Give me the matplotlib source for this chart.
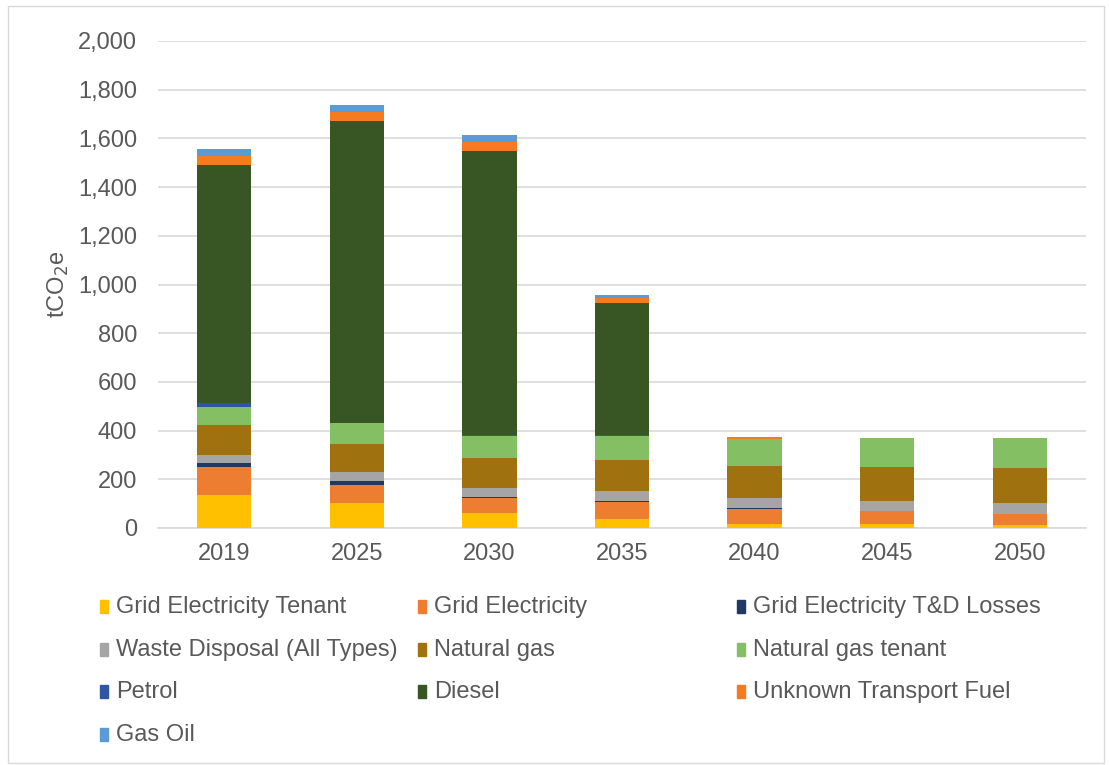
import numpy as np
import matplotlib.pyplot as plt
from matplotlib.patches import Rectangle

plt.rcParams['font.family'] = ['Liberation Sans', 'DejaVu Sans']

years = ['2019', '2025', '2030', '2035', '2040', '2045', '2050']

series_names = [
    'Grid Electricity Tenant', 'Grid Electricity', 'Grid Electricity T&D Losses',
    'Waste Disposal (All Types)', 'Natural gas', 'Natural gas tenant',
    'Petrol', 'Diesel', 'Unknown Transport Fuel',
    'Gas Oil',
]

grid_elec_tenant = [135, 101, 60, 36, 18, 15, 12]
grid_elec = [114, 76, 62, 72, 61, 55, 47]
grid_td_losses = [17, 17, 5, 3, 3, 0, 0]
waste = [32, 36, 37, 41, 42, 41, 44]
natural_gas = [125, 115, 125, 127, 131, 139, 145]
natural_gas_tenant = [74, 85, 90, 100, 111, 120, 122]
petrol = [16, 2, 2, 1, 0, 0, 0]
diesel = [978, 1240, 1168, 546, 0, 0, 0]
unknown_transport = [37, 36, 37, 17, 8, 0, 0]
gas_oil = [28, 29, 29, 15, 0, 0, 0]

colors = ['#FFC000', '#ED7D31', '#203864',
          '#A5A5A5', '#A0720F', '#85BF63',
          '#2F55A4', '#375623', '#F47B20',
          '#5B9BD5']

data = [grid_elec_tenant, grid_elec, grid_td_losses, waste, natural_gas,
        natural_gas_tenant, petrol, diesel, unknown_transport, gas_oil]

fig = plt.figure(figsize=(11.09, 7.65), dpi=100)
ax = fig.add_axes([158 / 1109, 1 - 528 / 765, (1086 - 158) / 1109, (528 - 41) / 765])

x = np.arange(len(years))
bottom = np.zeros(len(years))
for vals, col in zip(data, colors):
    ax.bar(x, vals, width=0.41, bottom=bottom, color=col, zorder=3)
    bottom += np.array(vals)

ax.set_xlim(-0.5, 6.5)
ax.set_ylim(0, 2000)
ax.set_yticks(np.arange(0, 2001, 200))
ax.set_yticklabels([f'{v:,}' for v in range(0, 2001, 200)])
ax.set_xticks(x)
ax.set_xticklabels(years)
ax.yaxis.grid(True, color='#D9D9D9', lw=1.2, zorder=0)
ax.set_axisbelow(True)
for s in ['top', 'right', 'left']:
    ax.spines[s].set_visible(False)
ax.spines['bottom'].set_color('#D9D9D9')
ax.spines['bottom'].set_linewidth(1.2)
ax.tick_params(axis='y', length=0, labelsize=17, colors='#595959', pad=15)
ax.tick_params(axis='x', length=0, labelsize=17, colors='#595959', pad=11)
ax.set_ylabel('tCO$_2$e', fontsize=17, color='#595959', labelpad=5)

# legend, laid out in equal-width columns like the original
col_x = [100, 418, 737]
row_y = [607, 650, 692, 735]
for i, (name, col) in enumerate(zip(series_names, colors)):
    cx = col_x[i % 3]
    cy = row_y[i // 3]
    fig.patches.append(Rectangle((cx / 1109, 1 - (cy + 6) / 765), 8 / 1109, 13 / 765,
                                 transform=fig.transFigure, color=col))
    fig.text((cx + 16) / 1109, 1 - cy / 765, name, fontsize=17, color='#595959',
             va='center', ha='left')

# chart border
fig.patches.append(Rectangle((8 / 1109, 2 / 765), 1096 / 1109, 757 / 765,
                             transform=fig.transFigure, fill=False,
                             edgecolor='#D9D9D9', lw=1))

fig.savefig('out.png', dpi=100)
